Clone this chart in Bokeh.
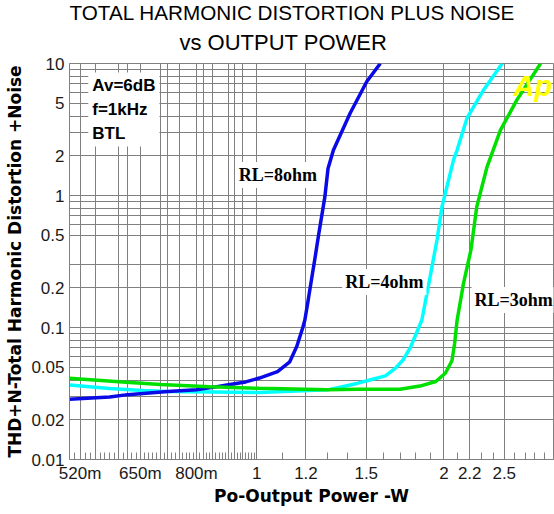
from bokeh.plotting import figure
from bokeh.models import Range1d, FixedTicker, Label, Title
from bokeh.embed import file_html
from bokeh.resources import INLINE

# ---- data ----
rl8_power = [0.50, 0.58, 0.62, 0.72, 0.80, 0.85, 0.90, 0.96, 1.01, 1.08, 1.13, 1.16,
             1.186, 1.195, 1.21, 1.24, 1.256, 1.287, 1.302, 1.328, 1.413, 1.503, 1.58]
rl8_thd = [0.0286, 0.0297, 0.031, 0.0327, 0.0338, 0.0352, 0.0368, 0.0387, 0.0414, 0.0463, 0.055, 0.072,
           0.10, 0.114, 0.162, 0.33, 0.487, 0.98, 1.6, 2.2, 4.2, 7.3, 10.0]

rl4_power = [0.50, 0.58, 0.655, 0.72, 1.01, 1.30, 1.45, 1.52, 1.61, 1.67, 1.72, 1.765, 1.805,
             1.843, 1.90, 1.949, 1.985, 2.01, 2.072, 2.099, 2.178, 2.316, 2.481]
rl4_thd = [0.0367, 0.0345, 0.0333, 0.0327, 0.0322, 0.0337, 0.0377, 0.040, 0.043, 0.049, 0.057, 0.07, 0.09,
           0.114, 0.243, 0.46, 0.82, 1.04, 1.86, 2.2, 3.85, 6.3, 10.0]

rl3_power = [0.50, 0.60, 0.70, 0.84, 1.01, 1.30, 1.45, 1.70, 1.83, 1.94, 2.01, 2.06, 2.08,
             2.10, 2.15, 2.21, 2.258, 2.346, 2.465, 2.62, 2.86]
rl3_thd = [0.0412, 0.0388, 0.037, 0.0355, 0.0346, 0.0337, 0.0340, 0.0340, 0.036, 0.039, 0.045, 0.056, 0.075,
           0.114, 0.216, 0.387, 0.82, 1.65, 3.13, 5.3, 10.0]

x_tick_values = [0.52, 0.65, 0.8, 1.0, 1.2, 1.5, 2.0, 2.2, 2.5]
x_tick_labels = ["520m", "650m", "800m", "1", "1.2", "1.5", "2", "2.2", "2.5"]
x_minor_ticks = [0.51, 0.53, 0.54, 0.56, 0.57, 0.58, 0.59, 0.61, 0.63, 0.64, 0.66, 0.67, 0.68, 0.69,
                 0.71, 0.73, 0.74, 0.76, 0.77, 0.78, 0.79, 0.81, 0.83, 0.84, 0.86, 0.87, 0.88, 0.89,
                 0.91, 0.93, 0.94, 0.96, 0.97, 0.98, 0.99,
                 1.1, 1.3, 1.4, 1.6, 1.7, 1.8, 1.9, 2.1, 2.3, 2.4, 2.6, 2.7, 2.8, 2.9]
x_grid_values = [0.52, 0.55, 0.6, 0.62, 0.65, 0.7, 0.72, 0.75, 0.8, 0.82, 0.85, 0.9, 0.92, 0.95,
                 1.0, 1.2, 1.5, 2.0, 2.2, 2.5]

y_tick_values = [0.01, 0.02, 0.05, 0.1, 0.2, 0.5, 1, 2, 5, 10]
y_tick_labels = ["0.01", "0.02", "0.05", "0.1", "0.2", "0.5", "1", "2", "5", "10"]
y_grid_values = [0.02, 0.03, 0.04, 0.05, 0.06, 0.07, 0.08, 0.09, 0.1, 0.2, 0.3, 0.5, 0.6, 0.7,
                 0.8, 0.9, 1, 2, 3, 4, 5, 6, 7, 8, 9, 10]

title_line1 = "TOTAL HARMONIC DISTORTION PLUS NOISE"
title_line2 = "vs  OUTPUT POWER"

GRID = "#808080"

p = figure(width=554, height=512, x_axis_type="log", y_axis_type="log",
           x_range=Range1d(0.5, 3.0), y_range=Range1d(0.01, 10),
           output_backend="svg", toolbar_location=None, title=None,
           min_border_left=69, min_border_right=1, min_border_top=63, min_border_bottom=53,
           background_fill_color="white", border_fill_color="white")

p.outline_line_color = GRID
p.outline_line_width = 1

# grids
p.xgrid.ticker = FixedTicker(ticks=x_grid_values)
p.ygrid.ticker = FixedTicker(ticks=y_grid_values)
for g in (p.xgrid, p.ygrid):
    g.grid_line_color = GRID
    g.grid_line_width = 1
    g.grid_line_alpha = 1.0

# x axis
xa = p.xaxis[0]
xa.ticker = FixedTicker(ticks=x_tick_values, minor_ticks=x_minor_ticks)
xa.major_label_overrides = {v: s for v, s in zip(x_tick_values, x_tick_labels)}
xa.axis_line_color = GRID
xa.major_tick_line_color = GRID
xa.major_tick_in = 0
xa.major_tick_out = 0
xa.minor_tick_line_color = GRID
xa.minor_tick_line_width = 1
xa.minor_tick_in = 7
xa.minor_tick_out = 0
xa.major_label_standoff = 4
xa.major_label_text_font = "Liberation Sans"
xa.major_label_text_font_size = "17px"
xa.major_label_text_color = "#1a1a1a"
xa.axis_label = "Po-Output Power -W"
xa.axis_label_text_font = "DejaVu Sans"
xa.axis_label_text_font_style = "bold"
xa.axis_label_text_font_size = "17px"
xa.axis_label_text_color = "black"
xa.axis_label_standoff = 0

# y axis
ya = p.yaxis[0]
ya.ticker = FixedTicker(ticks=y_tick_values, minor_ticks=[])
ya.major_label_overrides = {v: s for v, s in zip(y_tick_values, y_tick_labels)}
ya.axis_line_color = GRID
ya.major_tick_in = 0
ya.major_tick_out = 0
ya.minor_tick_line_color = None
ya.major_label_standoff = 5
ya.major_label_text_font = "Liberation Sans"
ya.major_label_text_font_size = "17px"
ya.major_label_text_color = "#1a1a1a"
ya.axis_label = "THD+N-Total Harmonic Distortion +Noise"
ya.axis_label_text_font = "DejaVu Sans"
ya.axis_label_text_font_style = "bold"
ya.axis_label_text_font_size = "17px"
ya.axis_label_text_color = "black"
ya.axis_label_standoff = 3

# two-line title (second line first so it sits nearest the plot)
t2 = Title(text=title_line2, align="left", offset=110,
           text_font="Liberation Sans", text_font_size="22px", text_font_style="normal",
           text_color="black", standoff=17)
t1 = Title(text=title_line1, align="left", offset=0,
           text_font="Liberation Sans", text_font_size="20.7px", text_font_style="normal",
           text_color="black", standoff=-8)
p.add_layout(t2, "above")
p.add_layout(t1, "above")

# curves
p.line(rl4_power, rl4_thd, line_color="#00FFFF", line_width=3.5)
p.line(rl8_power, rl8_thd, line_color="#0a0ae6", line_width=3.5)
p.line(rl3_power, rl3_thd, line_color="#00E000", line_width=3.5)

# annotations
p.add_layout(Label(x=0.536, y=8.55, text="Av=6dB\nf=1kHz\nBTL", text_align="left",
                   text_baseline="top", text_font="Liberation Sans", text_font_style="bold",
                   text_font_size="17px", text_line_height=1.24, text_color="black",
                   background_fill_color="white", padding=4))
for lx, ly, txt in [(0.925, 1.43, "RL=8ohm"), (1.372, 0.221, "RL=4ohm"), (2.215, 0.1616, "RL=3ohm")]:
    p.add_layout(Label(x=lx, y=ly, text=txt, text_align="left", text_baseline="middle",
                       text_font="Liberation Serif", text_font_style="bold", text_font_size="18px",
                       text_color="black", background_fill_color="white", padding=3))
p.add_layout(Label(x=2.588, y=6.76, text="Ap", text_align="left", text_baseline="alphabetic",
                   text_font="Liberation Sans", text_font_style="bold italic", text_font_size="29px",
                   text_color="#FFFF00"))

open("out.html", "w").write(file_html(p, INLINE))
